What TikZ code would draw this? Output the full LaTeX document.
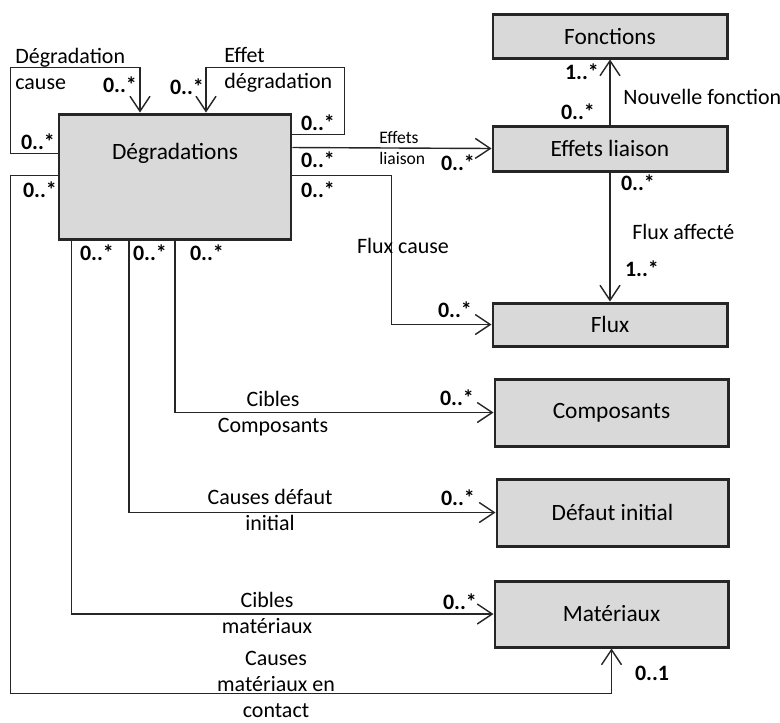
\documentclass[tikz,border=0pt]{standalone}
\usepackage{fontspec}
\setmainfont{Carlito}
\usetikzlibrary{arrows.meta, calc}

\begin{document}
\begin{tikzpicture}[x = 0.2mm, y = -0.2mm,
	entity/.style = {rectangle, draw = black!85, line width = 1.7pt, fill = black!15, inner sep = 0pt, font = \fontsize{13.3}{16}\selectfont},
	assoc/.style = {draw = black!85, line width = 0.8pt, -{Straight Barb[length = 3mm, width = 4mm]}},
	lbl/.style = {inner sep = 0pt, align = center, font = \fontsize{12.5}{14.8}\selectfont},
	mult/.style = {inner sep = 0pt, font = \fontsize{12.5}{15}\selectfont\bfseries}]

	\useasboundingbox (0, 0) rectangle (780, 722);

	\node (deg)    at (175, 176.5) [entity, minimum width = 4.64cm, text height = 0.9cm, text depth = 1.6cm] {Dégradations};
	\node (fonc)   at (610,  36)   [entity, minimum width = 4.68cm, minimum height = 0.88cm] {Fonctions};
	\node (eff)    at (610, 148.5) [entity, minimum width = 4.68cm, minimum height = 0.9cm]  {Effets liaison};
	\node (flux)   at (610, 324.5) [entity, minimum width = 4.68cm, minimum height = 0.86cm] {Flux};
	\node (comp)   at (611.5, 412.5) [entity, minimum width = 4.66cm, minimum height = 1.34cm] {Composants};
	\node (defaut) at (612.5, 512.5) [entity, minimum width = 4.62cm, minimum height = 1.34cm] {Défaut initial};
	\node (mat)    at (611.5, 614)   [entity, minimum width = 4.66cm, minimum height = 1.32cm] {Matériaux};

	% self loops
	\draw[assoc] ($(deg.north west)+(0,41)$) -| ++(-47,-86) -| ($(deg.north)+(-35,0)$);
	\draw[assoc] ($(deg.north east)+(0,22)$) -| ++(52,-67) -| ($(deg.north)+(31,0)$);

	% links from Degradations
	\draw[assoc] ($(deg.north east)+(0,35)$) -- (eff.west);
	\draw[assoc] ($(deg.north east)+(0,63)$) -| ($(flux.west)+(-100,0)$) -- (flux.west);
	\draw[assoc] (deg.south) |- (comp.west);
	\draw[assoc] ($(deg.south)+(-46,0)$) |- (defaut.west);
	\draw[assoc] ($(deg.south west)+(14,0)$) |- (mat.west);
	\draw[assoc] ($(deg.north west)+(0,63)$) -| ++(-47,518) -| (mat.south);

	% links from Effets liaison
	\draw[assoc] (eff.north) -- (fonc.south);
	\draw[assoc] (eff.south) -- (flux.north);

	\node (lcause)   at (15, 68.5)  [lbl, anchor = west, align = left] {Dégradation\\cause};
	\node (leffet)   at (224, 70)   [lbl, anchor = west, align = left] {Effet\\dégradation};
	\node (lliaison) at (379, 148)  [lbl, anchor = west, align = left, font = \fontsize{10}{12.5}\selectfont] {Effets\\liaison};
	\node (lfluxc)   at (403, 246)  [lbl] {Flux cause};
	\node (lnouv)    at (623, 97)   [lbl, anchor = west] {Nouvelle fonction};
	\node (lfluxa)   at (632, 232)  [lbl, anchor = west] {Flux affecté};
	\node (lcomp)    at (273, 414)  [lbl] {Cibles\\Composants};
	\node (ldefaut)  at (270, 510)  [lbl] {Causes défaut\\initial};
	\node (lmat)     at (267, 613)  [lbl] {Cibles\\matériaux};
	\node (lcontact) at (276, 684.5) [lbl] {Causes\\matériaux en\\contact};

	\foreach \x/\y/\m [count = \i] in {120/85/0..*, 38/142/0..*, 187/87/0..*, 318/123/0..*, 318/160/0..*,
	318/190/0..*, 40/190/0..*, 97/253/0..*, 150/253/0..*, 207/253/0..*, 458/163/0..*, 455/310/0..*,
	582/72/1..*, 578/112/0..*, 638/183/0..*, 642/269/1..*, 457/398/0..*, 458/498/0..*, 460/602/0..*, 652/673/0..1}
		\node (mult\i) at (\x, \y) [mult] {\m};

\end{tikzpicture}
\end{document}
